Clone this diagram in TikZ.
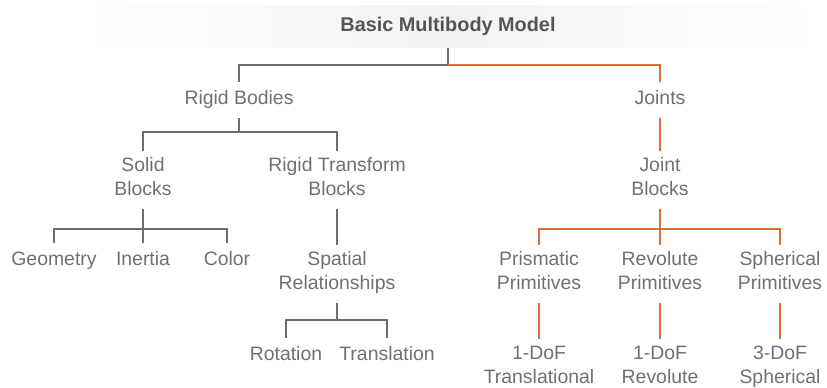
\documentclass[tikz,border=0pt]{standalone}
\usepackage{fontspec}
\setmainfont{Liberation Sans}
\usepackage{tikz}
\definecolor{MBline}{HTML}{6E6E6E}
\definecolor{MBorange}{HTML}{D8703C}
\definecolor{MBtext}{HTML}{707070}
\definecolor{MBtitle}{HTML}{555555}
\tikzset{
  lbl/.style={font=\fontsize{11.05}{13.6}\selectfont,text=MBtext,align=center,inner xsep=0pt,inner ysep=3.4pt,
    execute at begin node=\strut,execute at end node=\strut},
  banner/.style={font=\fontsize{11.3}{13.6}\selectfont\bfseries,text=MBtitle,minimum width=14.7cm,minimum height=0.86cm,
    left color=white,right color=white,middle color=black!5,inner sep=0pt},
  gln/.style={draw=MBline,line width=1.1pt},
  oln/.style={draw=MBorange,line width=1.1pt}
}

\begin{document}
\begin{tikzpicture}[x=0.02cm,y=-0.02cm]
\useasboundingbox (0,0) rectangle (827,388);
\node[banner] (title) at (448,26.5) {Basic Multibody Model};

\node[lbl] (rb) at (239,100) {Rigid Bodies};
\node[lbl] (jt) at (660,100) {Joints};

\node[lbl] (sb) at (143,180) {Solid\\Blocks};
\node[lbl] (rtb) at (337,180) {Rigid Transform\\Blocks};
\node[lbl] (jb) at (660,180) {Joint\\Blocks};

\node[lbl] (geo) at (54,261) {Geometry};
\node[lbl] (inr) at (143,261) {Inertia};
\node[lbl] (col) at (227,261) {Color};
\node[lbl] (sr) at (337,274) {Spatial\\Relationships};
\node[lbl] (pri) at (539,274) {Prismatic\\Primitives};
\node[lbl] (rev) at (660,274) {Revolute\\Primitives};
\node[lbl] (sph) at (780,274) {Spherical\\Primitives};

\node[lbl] (rot) at (286,356) {Rotation};
\node[lbl] (tra) at (387,356) {Translation};
\node[lbl] (dof1) at (539,368) {1-DoF\\Translational};
\node[lbl] (dof2) at (660,368) {1-DoF\\Revolute};
\node[lbl] (dof3) at (780,368) {3-DoF\\Spherical};

\draw[gln] (title.south) -- ++(0,17) coordinate (t0) -| (rb.north);
\draw[oln] (t0) -| (jt.north);

\draw[gln] (rb.south) -- ++(0,14) coordinate (r0) -| (sb.north);
\draw[gln] (r0) -| (rtb.north);
\draw[oln] (jt) -- (jb);

\draw[gln] (sb.south) -- ++(0,20) coordinate (s0) -| (geo.north);
\draw[gln] (s0) -- (inr.north);
\draw[gln] (s0) -| (col.north);
\draw[gln] (rtb) -- (sr);

\draw[oln] (jb.south) -- ++(0,20) coordinate (j0) -| (pri.north);
\draw[oln] (j0) -- (rev.north);
\draw[oln] (j0) -| (sph.north);

\draw[gln] (sr.south) -- ++(0,17) coordinate (p0) -| (rot.north);
\draw[gln] (p0) -| (tra.north);

\draw[oln] (pri) -- (dof1);
\draw[oln] (rev) -- (dof2);
\draw[oln] (sph) -- (dof3);
\end{tikzpicture}
\end{document}
